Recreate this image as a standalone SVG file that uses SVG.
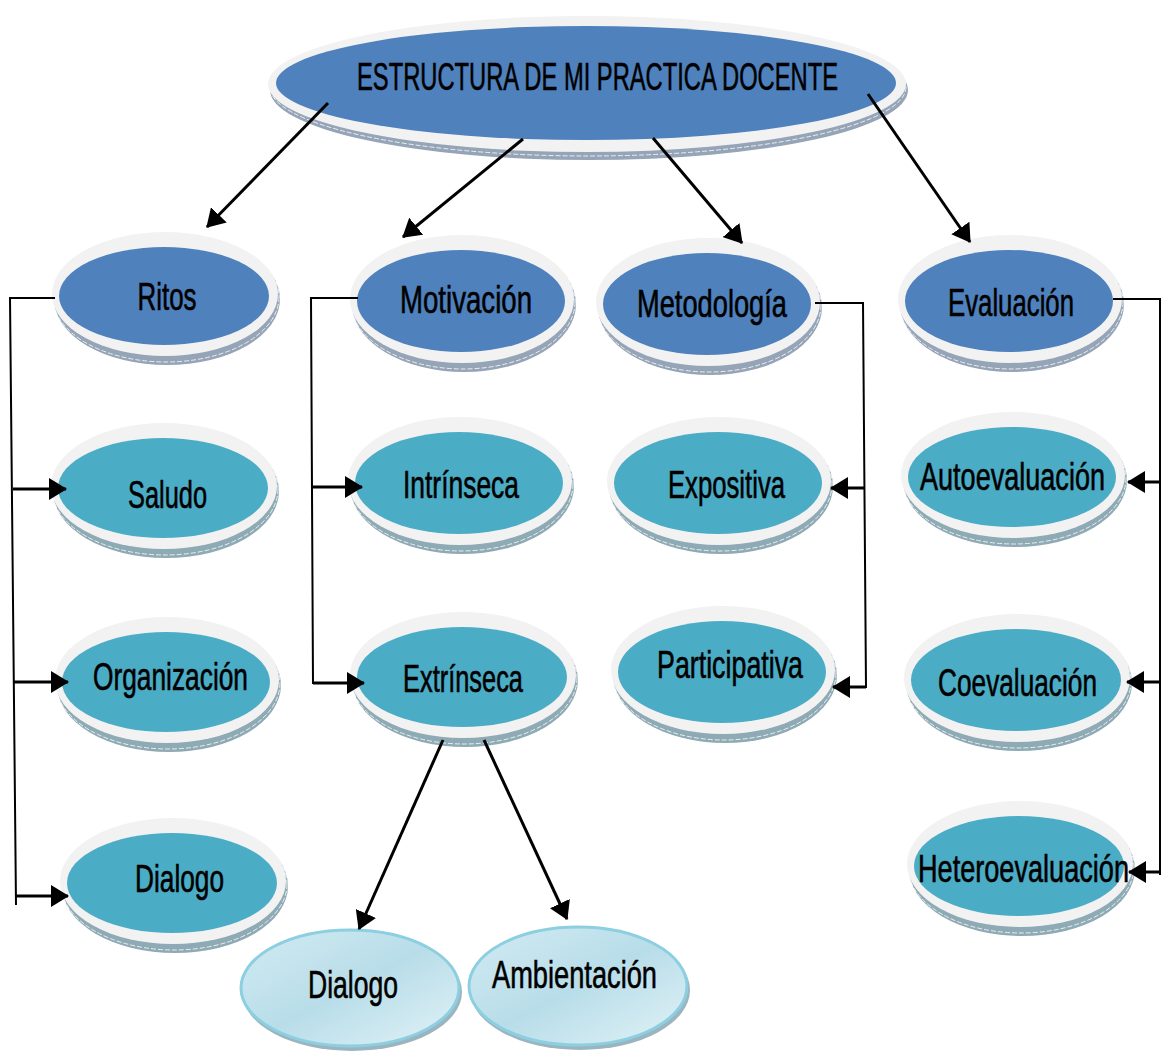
<svg xmlns="http://www.w3.org/2000/svg" width="1162" height="1053" viewBox="0 0 1162 1053">
<defs>
<style>
.sb{fill:#95a4b7}
.st{fill:#8eaab4}
.ring{fill:#f2f2f2}
.dash{fill:none;stroke:#ffffff;stroke-width:1;stroke-dasharray:5 2;opacity:0.8}
.dark{fill:#4f81bd}
.teal{fill:#4bacc6}
.lite{fill:url(#lg);stroke:#8ccfe0;stroke-width:3}
.ls{fill:#9bb5c0}
.t{font-family:"Liberation Sans",Arial,sans-serif;font-size:38px;fill:#000;stroke:#000;stroke-width:0.6;text-anchor:middle}
.ln{fill:none;stroke:#000;stroke-width:2}
.ar{fill:none;stroke:#000;stroke-width:3;marker-end:url(#ah)}
</style>
<linearGradient id="lg" x1="0" y1="0" x2="1" y2="1">
<stop offset="0" stop-color="#d2ebf3"/>
<stop offset="0.5" stop-color="#b8dde9"/>
<stop offset="1" stop-color="#e2f2f7"/>
</linearGradient>
<marker id="ah" markerUnits="userSpaceOnUse" markerWidth="18" markerHeight="22" refX="17" refY="11" orient="auto">
<path d="M0,0 L18,11 L0,22 z" fill="#000"/>
</marker>
</defs>
<rect width="1162" height="1053" fill="#ffffff"/>

<g id="node-title">
<ellipse class="sb" cx="589" cy="90" rx="319" ry="70"/>
<ellipse class="dash" cx="588" cy="87" rx="318" ry="69"/>
<ellipse class="ring" cx="587" cy="84" rx="319" ry="68"/>
<ellipse class="dark" cx="586" cy="83" rx="310" ry="57"/>
<text class="t" x="597.5" y="90" textLength="481" lengthAdjust="spacingAndGlyphs">ESTRUCTURA DE MI PRACTICA DOCENTE</text>
</g>

<g id="node-ritos">
<ellipse class="sb" cx="167" cy="299" rx="113" ry="66"/>
<ellipse class="dash" cx="166" cy="297" rx="113" ry="65"/>
<ellipse class="ring" cx="165" cy="294" rx="113" ry="62"/>
<ellipse class="dark" cx="164" cy="296" rx="105" ry="49"/>
<text class="t" x="167" y="310" textLength="59" lengthAdjust="spacingAndGlyphs">Ritos</text>
</g>

<g id="node-motivacion">
<ellipse class="sb" cx="464" cy="304" rx="112" ry="68"/>
<ellipse class="dash" cx="463" cy="302" rx="112" ry="67"/>
<ellipse class="ring" cx="462" cy="299" rx="112" ry="64"/>
<ellipse class="dark" cx="461" cy="301" rx="104" ry="51"/>
<text class="t" x="466" y="313" textLength="132" lengthAdjust="spacingAndGlyphs">Motivación</text>
</g>

<g id="node-metodologia">
<ellipse class="sb" cx="710" cy="307" rx="112" ry="68"/>
<ellipse class="dash" cx="709" cy="305" rx="112" ry="67"/>
<ellipse class="ring" cx="708" cy="302" rx="112" ry="64"/>
<ellipse class="dark" cx="707" cy="304" rx="104" ry="51"/>
<text class="t" x="712" y="317" textLength="150" lengthAdjust="spacingAndGlyphs">Metodología</text>
</g>

<g id="node-evaluacion">
<ellipse class="sb" cx="1012" cy="304" rx="112" ry="68"/>
<ellipse class="dash" cx="1011" cy="302" rx="112" ry="67"/>
<ellipse class="ring" cx="1010" cy="299" rx="112" ry="64"/>
<ellipse class="dark" cx="1009" cy="301" rx="104" ry="51"/>
<text class="t" x="1011" y="316" textLength="126" lengthAdjust="spacingAndGlyphs">Evaluación</text>
</g>

<g id="node-saludo">
<ellipse class="st" cx="166" cy="491" rx="113" ry="67"/>
<ellipse class="dash" cx="165" cy="489" rx="113" ry="66"/>
<ellipse class="ring" cx="164" cy="486" rx="113" ry="63"/>
<ellipse class="teal" cx="163" cy="488" rx="105" ry="50"/>
<text class="t" x="167.5" y="508" textLength="79" lengthAdjust="spacingAndGlyphs">Saludo</text>
</g>

<g id="node-organizacion">
<ellipse class="st" cx="169" cy="685" rx="112" ry="67"/>
<ellipse class="dash" cx="168" cy="683" rx="112" ry="66"/>
<ellipse class="ring" cx="167" cy="680" rx="112" ry="63"/>
<ellipse class="teal" cx="166" cy="682" rx="104" ry="50"/>
<text class="t" x="170.5" y="690" textLength="155" lengthAdjust="spacingAndGlyphs">Organización</text>
</g>

<g id="node-dialogo-1">
<ellipse class="st" cx="175" cy="886" rx="113" ry="67"/>
<ellipse class="dash" cx="174" cy="884" rx="113" ry="66"/>
<ellipse class="ring" cx="173" cy="881" rx="113" ry="63"/>
<ellipse class="teal" cx="172" cy="883" rx="105" ry="50"/>
<text class="t" x="179.5" y="892" textLength="89" lengthAdjust="spacingAndGlyphs">Dialogo</text>
</g>

<g id="node-intrinseca">
<ellipse class="st" cx="462" cy="486" rx="112" ry="68"/>
<ellipse class="dash" cx="461" cy="484" rx="112" ry="67"/>
<ellipse class="ring" cx="460" cy="481" rx="112" ry="64"/>
<ellipse class="teal" cx="459" cy="483" rx="104" ry="51"/>
<text class="t" x="461" y="498" textLength="116" lengthAdjust="spacingAndGlyphs">Intrínseca</text>
</g>

<g id="node-extrinseca">
<ellipse class="st" cx="465" cy="680" rx="113" ry="67"/>
<ellipse class="dash" cx="464" cy="678" rx="113" ry="66"/>
<ellipse class="ring" cx="463" cy="675" rx="113" ry="63"/>
<ellipse class="teal" cx="462" cy="677" rx="105" ry="50"/>
<text class="t" x="463" y="692" textLength="120" lengthAdjust="spacingAndGlyphs">Extrínseca</text>
</g>

<g id="node-expositiva">
<ellipse class="st" cx="721" cy="486" rx="112" ry="68"/>
<ellipse class="dash" cx="720" cy="484" rx="112" ry="67"/>
<ellipse class="ring" cx="719" cy="481" rx="112" ry="64"/>
<ellipse class="teal" cx="718" cy="483" rx="104" ry="51"/>
<text class="t" x="726.5" y="498" textLength="117" lengthAdjust="spacingAndGlyphs">Expositiva</text>
</g>

<g id="node-participativa">
<ellipse class="st" cx="725" cy="675" rx="112" ry="68"/>
<ellipse class="dash" cx="724" cy="673" rx="112" ry="67"/>
<ellipse class="ring" cx="723" cy="670" rx="112" ry="64"/>
<ellipse class="teal" cx="722" cy="672" rx="104" ry="51"/>
<text class="t" x="730" y="678" textLength="146" lengthAdjust="spacingAndGlyphs">Participativa</text>
</g>

<g id="node-autoevaluacion">
<ellipse class="st" cx="1015" cy="480" rx="112" ry="67"/>
<ellipse class="dash" cx="1014" cy="478" rx="112" ry="66"/>
<ellipse class="ring" cx="1013" cy="475" rx="112" ry="63"/>
<ellipse class="teal" cx="1012" cy="477" rx="104" ry="50"/>
<text class="t" x="1012.5" y="490" textLength="185" lengthAdjust="spacingAndGlyphs">Autoevaluación</text>
</g>

<g id="node-coevaluacion">
<ellipse class="st" cx="1019" cy="683" rx="113" ry="68"/>
<ellipse class="dash" cx="1018" cy="681" rx="113" ry="67"/>
<ellipse class="ring" cx="1017" cy="678" rx="113" ry="64"/>
<ellipse class="teal" cx="1016" cy="680" rx="105" ry="51"/>
<text class="t" x="1017.5" y="696" textLength="159" lengthAdjust="spacingAndGlyphs">Coevaluación</text>
</g>

<g id="node-heteroevaluacion">
<ellipse class="st" cx="1022" cy="869" rx="113" ry="67"/>
<ellipse class="dash" cx="1021" cy="867" rx="113" ry="66"/>
<ellipse class="ring" cx="1020" cy="864" rx="113" ry="63"/>
<ellipse class="teal" cx="1019" cy="866" rx="105" ry="50"/>
<text class="t" x="1023.5" y="882" textLength="211" lengthAdjust="spacingAndGlyphs">Heteroevaluación</text>
</g>

<g id="node-dialogo-2">
<ellipse class="ls" cx="352" cy="992" rx="110" ry="59"/>
<ellipse class="lite" cx="350" cy="988" rx="109" ry="58"/>
<text class="t" x="353" y="998" textLength="90" lengthAdjust="spacingAndGlyphs">Dialogo</text>
</g>

<g id="node-ambientacion">
<ellipse class="ls" cx="580" cy="990" rx="110" ry="60"/>
<ellipse class="lite" cx="578" cy="986" rx="109" ry="59"/>
<text class="t" x="574.5" y="988" textLength="165" lengthAdjust="spacingAndGlyphs">Ambientación</text>
</g>

<g id="connectors">
<line class="ar" x1="328" y1="103" x2="207" y2="227"/>
<line class="ar" x1="523" y1="139" x2="403" y2="237"/>
<line class="ar" x1="653" y1="138" x2="742" y2="243"/>
<line class="ar" x1="868" y1="94" x2="970" y2="242"/>

<polyline class="ln" points="55,298 10,298 16,905"/>
<line class="ar" x1="13" y1="489" x2="66" y2="489"/>
<line class="ar" x1="14" y1="682" x2="68" y2="682"/>
<line class="ar" x1="16" y1="896" x2="68" y2="896"/>

<polyline class="ln" points="358,298 311,298 313,684"/>
<line class="ar" x1="312" y1="487" x2="362" y2="487"/>
<line class="ar" x1="313" y1="683" x2="364" y2="683"/>

<polyline class="ln" points="815,303 863,303 866,688"/>
<line class="ar" x1="864" y1="488" x2="831" y2="488"/>
<line class="ar" x1="866" y1="687" x2="833" y2="687"/>

<polyline class="ln" points="1113,299 1160,299 1160,875"/>
<line class="ar" x1="1160" y1="482" x2="1128" y2="482"/>
<line class="ar" x1="1160" y1="682" x2="1127" y2="682"/>
<line class="ar" x1="1160" y1="872" x2="1129" y2="872"/>

<line class="ar" x1="443" y1="740" x2="359" y2="929"/>
<line class="ar" x1="484" y1="740" x2="567" y2="919"/>
</g>
</svg>
